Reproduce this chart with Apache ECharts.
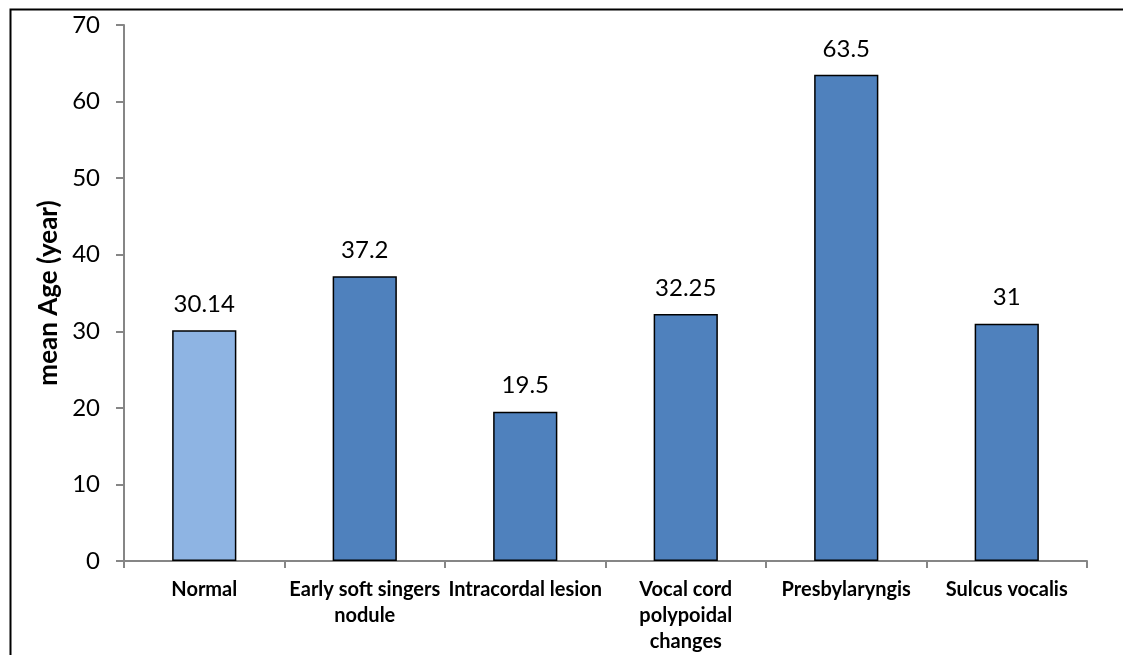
<!DOCTYPE html>
<html>
<head>
<meta charset="utf-8">
<script src="https://cdn.jsdelivr.net/npm/echarts@6/dist/echarts.min.js"></script>
<style>
  html, body { margin: 0; padding: 0; background: #fff; }
  #chart { width: 1123px; height: 655px; }
</style>
</head>
<body>
<div id="chart"></div>
<script>
// data
const categories = ['Normal', 'Early soft singers nodule', 'Intracordal lesion', 'Vocal cord polypoidal changes', 'Presbylaryngis', 'Sulcus vocalis']
const categoryLabels = ['Normal', 'Early soft singers\nnodule', 'Intracordal lesion', 'Vocal cord\npolypoidal\nchanges', 'Presbylaryngis', 'Sulcus vocalis']
const meanAge = [30.14, 37.2, 19.5, 32.25, 63.5, 31]
const yTicks = [0, 10, 20, 30, 40, 50, 60, 70]

const fontName = 'Lato, "Liberation Sans", sans-serif'
const barColor = '#4F81BD'
const firstBarColor = '#8EB4E3'

const chart = echarts.init(document.getElementById('chart'))

chart.setOption({
    animation: false,
    textStyle: { fontFamily: fontName },
    // outer frame of the picture
    graphic: [{
        type: 'rect',
        left: 8,
        top: 7,
        shape: { width: 1130, height: 670 },
        style: { fill: 'none', stroke: '#000', lineWidth: 2 },
        silent: true
    }],
    grid: {
        left: 124,
        right: 36,
        top: 25,
        bottom: 93
    },
    xAxis: {
        type: 'category',
        data: categories,
        axisLine: { lineStyle: { color: '#868686', width: 2 } },
        axisTick: { show: true, length: 7, lineStyle: { color: '#868686', width: 2 } },
        axisLabel: {
            interval: 0,
            margin: 16,
            color: '#000',
            fontWeight: 'bold',
            fontSize: 20,
            lineHeight: 26,
            fontFamily: fontName,
            formatter: (v, i) => categoryLabels[i]
        }
    },
    yAxis: {
        type: 'value',
        min: yTicks[0],
        max: yTicks[yTicks.length - 1],
        interval: 10,
        name: 'mean Age (year)',
        nameLocation: 'middle',
        nameGap: 54,
        nameTextStyle: {
            color: '#000',
            fontWeight: 'bold',
            fontSize: 26,
            fontFamily: fontName
        },
        axisLine: { show: true, lineStyle: { color: '#868686', width: 2 } },
        axisTick: { show: true, length: 8, lineStyle: { color: '#868686', width: 2 } },
        splitLine: { show: false },
        axisLabel: {
            margin: 24,
            color: '#000',
            fontSize: 24,
            fontFamily: fontName
        }
    },
    series: [{
        type: 'bar',
        barWidth: '40%',
        data: meanAge.map((v, i) => ({
            value: v,
            itemStyle: { color: i === 0 ? firstBarColor : barColor }
        })),
        itemStyle: { borderColor: '#000', borderWidth: 1.5 },
        label: {
            show: true,
            position: 'top',
            distance: 14,
            color: '#000',
            fontSize: 24,
            fontFamily: fontName
        }
    }]
})
</script>
</body>
</html>
